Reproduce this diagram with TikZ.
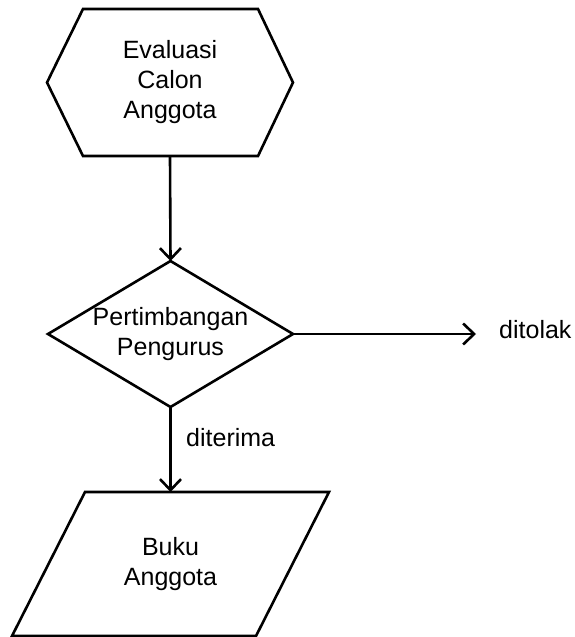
\documentclass[tikz,border=0pt]{standalone}
\usepackage{fontspec}
\setmainfont{Liberation Sans}
\usetikzlibrary{arrows.meta}
\begin{document}
\begin{tikzpicture}[x=1pt,y=-1pt,
  shapebox/.style={inner sep=0pt, outer sep=0pt, align=center, font=\fontsize{25}{30}\selectfont},
  outline/.style={draw=black, line width=2.6pt, line join=miter},
  arr/.style={line width=2.6pt, -{Straight Barb[length=11pt,width=21pt]}},
  lbl/.style={inner sep=0pt, font=\fontsize{25}{30}\selectfont}]
\useasboundingbox (0,0) rectangle (574,637);
% hexagon
\node[shapebox, minimum width=246pt, minimum height=147pt] (hex) at (170,82.5) {Evaluasi\\Calon\\Anggota};
\draw[outline] ([xshift=36pt]hex.north west) -- ([xshift=-35pt]hex.north east) -- (hex.east)
  -- ([xshift=-35pt]hex.south east) -- ([xshift=36pt]hex.south west) -- (hex.west) -- cycle;
% diamond
\node[shapebox, minimum width=245pt, minimum height=146pt] (dia) at (170.5,334) {Pertimbangan\\Pengurus};
\draw[outline] (dia.north) -- (dia.east) -- (dia.south) -- (dia.west) -- cycle;
% parallelogram
\node[shapebox, minimum width=317pt, minimum height=144pt] (par) at (170.5,564) {Buku\\Anggota};
\draw[outline] ([xshift=73pt]par.north west) -- (par.north east) -- ([xshift=-73pt]par.south east)
  -- (par.south west) -- cycle;
% labels
\node[lbl, anchor=base west] (dt) at (499,338) {ditolak};
\node[lbl, anchor=base west] (dtr) at (186,446) {diterima};
\coordinate (tipR) at (476,334);
% connectors
\draw[arr] (hex.south) -- (dia.north);
\draw[arr] (dia.south) -- (par.north);
\draw[arr] (dia.east) -- (tipR);
\end{tikzpicture}
\end{document}
